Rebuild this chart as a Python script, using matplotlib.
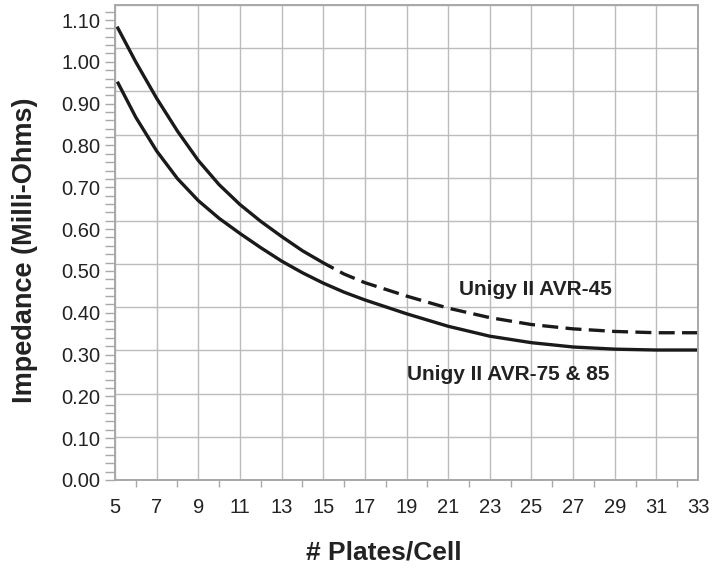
import matplotlib
matplotlib.use('Agg')
import matplotlib.pyplot as plt
from matplotlib.ticker import MultipleLocator
import numpy as np

plt.rcParams['font.family'] = ['Liberation Sans', 'DejaVu Sans']

# valores (escala da grade)
placas_45 = [5.1, 6, 7, 8, 9, 10, 11, 12, 13, 14, 15, 15.5,
             16, 17, 19, 21, 23, 25, 27, 29, 31, 33]
imped_45 = [1.05, 0.968, 0.884, 0.808, 0.740, 0.684, 0.638, 0.599, 0.564, 0.531, 0.503, 0.490,
            0.477, 0.457, 0.426, 0.398, 0.376, 0.360, 0.350, 0.344, 0.341, 0.341]
corte_45 = 15.5  # ate aqui linha cheia, depois tracejada

placas_75 = [5.15, 6, 7, 8, 9, 10, 11, 12, 13, 14, 15, 16, 17, 19, 21, 23, 25, 27, 29, 31, 33]
imped_75 = [0.919, 0.840, 0.762, 0.698, 0.647, 0.606, 0.571, 0.538, 0.507, 0.480, 0.456,
            0.435, 0.417, 0.385, 0.356, 0.333, 0.318, 0.308, 0.303, 0.301, 0.301]

rotulo_45 = 'Unigy II AVR-45'
rotulo_75 = 'Unigy II AVR-75 & 85'

x45 = np.array(placas_45)
y45 = np.array(imped_45)
cheio = x45 <= corte_45
trac = x45 >= corte_45

cinza = '#a8a8a8'
texto = '#222222'

fig = plt.figure(figsize=(7.25, 5.71), dpi=100)
ax = fig.add_axes([0.1586, 0.1594, 0.8042, 0.8318])

ax.plot(x45[cheio], y45[cheio], '-', color='#1a1a1a', lw=2.4,
        solid_capstyle='butt', solid_joinstyle='round')
# tracejado comeca com um espaco, como no original
ax.plot(x45[trac], y45[trac], color='#1a1a1a', lw=2.4, ls=(4.8, (4.8, 2.2)))
ax.plot(placas_75, imped_75, '-', color='#1a1a1a', lw=2.4, solid_joinstyle='round')

ax.text(21.5, 0.44, rotulo_45, fontsize=15, fontweight='bold', color=texto, va='center')
ax.text(19.0, 0.245, rotulo_75, fontsize=15, fontweight='bold', color=texto, va='center')

# eixo da grade
ax.set_xlim(5, 33)
ax.set_ylim(0, 1.10)
ax.set_xticks(np.arange(5, 34, 2))
ax.xaxis.set_minor_locator(MultipleLocator(1))
ax.yaxis.set_major_locator(MultipleLocator(0.1))
ax.grid(which='major', color='#bcbcbc', lw=1.0)
ax.set_axisbelow(True)
for s in ax.spines.values():
    s.set_color(cinza)
    s.set_linewidth(1.4)
ax.tick_params(axis='x', which='major', length=0, pad=13, labelsize=14.5, labelcolor=texto)
ax.tick_params(axis='x', which='minor', length=5, color=cinza, width=1)
ax.tick_params(axis='y', which='both', length=0, labelleft=False)

# escala dos rotulos do eixo y (nao bate exatamente com a grade no original)
ay = ax.twinx()
ay.yaxis.tick_left()
ay.set_ylim(0, 1.10 * 475 / 460)
ay.set_yticks(np.arange(0, 1.101, 0.1))
ay.set_yticklabels(['%.2f' % v for v in np.arange(0, 1.101, 0.1)])
ay.yaxis.set_minor_locator(MultipleLocator(0.02))
ay.tick_params(axis='y', which='both', length=7, color=cinza, width=1,
               labelsize=14.5, labelcolor=texto, pad=3.5)
for s in ay.spines.values():
    s.set_visible(False)

fig.text(25 / 725, 1 - 250 / 571, 'Impedance (Milli-Ohms)', rotation=90, fontsize=19.5,
         fontweight='bold', color=texto, ha='center', va='center')
fig.text(384 / 725, 1 - 552 / 571, '# Plates/Cell', fontsize=19, fontweight='bold',
         color=texto, ha='center', va='center')

fig.savefig('out.png', dpi=100)
